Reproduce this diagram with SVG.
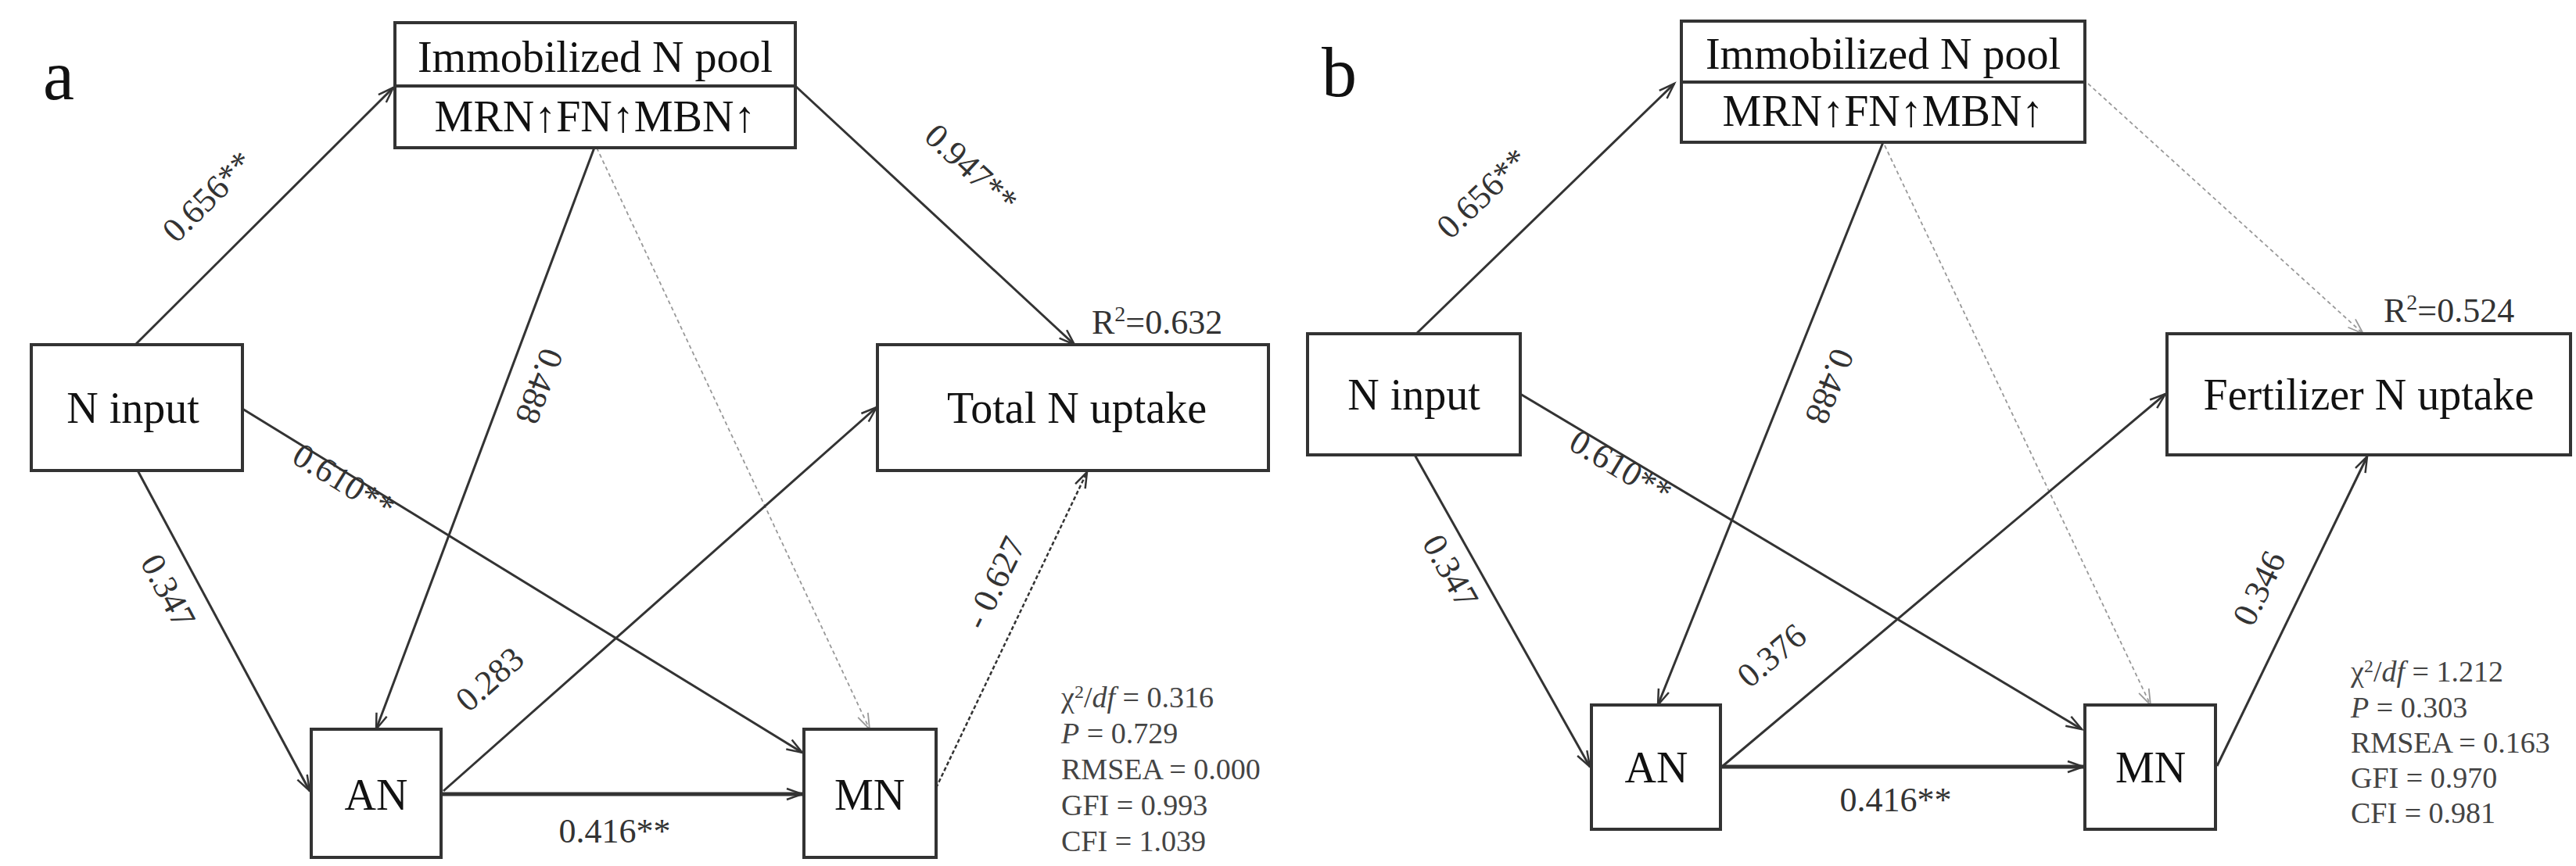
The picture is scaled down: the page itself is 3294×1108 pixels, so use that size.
<svg xmlns="http://www.w3.org/2000/svg" width="3294" height="1108" viewBox="0 0 3294 1108">
<style>
.box{fill:#fff;stroke:#333;stroke-width:4}
.nt{font-family:"Liberation Serif",serif;font-size:56px;fill:#111;text-anchor:middle}
.el{font-family:"Liberation Serif",serif;font-size:44px;fill:#333;text-anchor:middle}
.st{font-family:"Liberation Serif",serif;font-size:38px;fill:#444}
.pl{font-family:"Liberation Serif",serif;font-size:90px;fill:#111}
.s{stroke:#333;stroke-width:3;fill:none;marker-end:url(#ah)}
.t{stroke:#333;stroke-width:5;fill:none;marker-end:url(#ah)}
.d{stroke:#999;stroke-width:1.8;stroke-dasharray:5 4;fill:none;marker-end:url(#ahg)}
.dd{stroke:#333;stroke-width:2.5;stroke-dasharray:5 3;fill:none;marker-end:url(#ah)}
</style>
<defs>
<marker id="ah" markerUnits="userSpaceOnUse" markerWidth="26" markerHeight="18" refX="22" refY="9" orient="auto"><path d="M2,2 L22,9 L2,16" fill="none" stroke="#333" stroke-width="2.5"/></marker>
<marker id="ahg" markerUnits="userSpaceOnUse" markerWidth="26" markerHeight="18" refX="22" refY="9" orient="auto"><path d="M2,2 L22,9 L2,16" fill="none" stroke="#999" stroke-width="1.8"/></marker>
</defs>
<rect width="3294" height="1108" fill="#fff"/>
<text class="pl" x="55" y="127">a</text>
<text class="pl" x="1690" y="123">b</text>
<g id="connectors">
<!-- panel a -->
<line class="s" x1="173" y1="441" x2="503" y2="112"/>
<line class="s" x1="1017" y1="110" x2="1374" y2="441"/>
<line class="s" x1="760" y1="189" x2="481" y2="933"/>
<line class="d" x1="763" y1="189" x2="1112" y2="933"/>
<line class="s" x1="176" y1="602" x2="396" y2="1012"/>
<line class="s" x1="310" y1="523" x2="1026" y2="963"/>
<line class="s" x1="567" y1="1012" x2="1121" y2="521"/>
<line class="t" x1="564" y1="1016" x2="1026" y2="1016"/>
<line class="dd" x1="1197" y1="1008" x2="1390" y2="604"/>
<!-- panel b -->
<line class="s" x1="1811" y1="427" x2="2141" y2="107"/>
<line class="d" x1="2670" y1="107" x2="3022" y2="427"/>
<line class="s" x1="2408" y1="182" x2="2120" y2="902"/>
<line class="d" x1="2410" y1="186" x2="2750" y2="902"/>
<line class="s" x1="1809" y1="582" x2="2033" y2="981"/>
<line class="s" x1="1944" y1="504" x2="2662" y2="933"/>
<line class="s" x1="2203" y1="980" x2="2769" y2="504"/>
<line class="t" x1="2200" y1="981" x2="2664" y2="981"/>
<line class="s" x1="2835" y1="980" x2="3027" y2="584"/>
</g>
<g id="edge-labels">
<text class="el" transform="translate(276,262) rotate(-45)">0.656**</text>
<text class="el" transform="translate(1232,226) rotate(43)">0.947**</text>
<text class="el" transform="translate(676,489) rotate(110.6)">0.488</text>
<text class="el" transform="translate(202,763) rotate(62)">0.347</text>
<text class="el" transform="translate(432,628) rotate(31.6)">0.610**</text>
<text class="el" transform="translate(636,880) rotate(-41.6)">0.283</text>
<text class="el" transform="translate(1285,752) rotate(-64)">- 0.627</text>
<text class="el" x="786" y="1078">0.416**</text>
<text class="el" transform="translate(1906,258) rotate(-44)">0.656**</text>
<text class="el" transform="translate(2326,489) rotate(111.8)">0.488</text>
<text class="el" transform="translate(1842,738) rotate(60.7)">0.347</text>
<text class="el" transform="translate(2065,610) rotate(30.9)">0.610**</text>
<text class="el" transform="translate(2275,850) rotate(-40)">0.376</text>
<text class="el" transform="translate(2902,759) rotate(-64)">0.346</text>
<text class="el" x="2424" y="1038">0.416**</text>
</g>
<g id="a-imm">
<rect class="box" x="505" y="29" width="512" height="160"/>
<line x1="505" y1="110" x2="1017" y2="110" stroke="#333" stroke-width="4"/>
<text class="nt" x="761" y="92">Immobilized N pool</text>
<text class="nt" x="761" y="168">MRN↑FN↑MBN↑</text>
</g>
<g id="a-ninput"><rect class="box" x="40" y="441" width="270" height="161"/><text class="nt" x="170" y="541">N input</text></g>
<g id="a-total"><rect class="box" x="1122" y="441" width="500" height="161"/><text class="nt" x="1377" y="541">Total N uptake</text>
<text class="el" x="1396" y="427" style="text-anchor:start">R<tspan dy="-16" font-size="28">2</tspan><tspan dy="16">=0.632</tspan></text></g>
<g id="a-an"><rect class="box" x="398" y="933" width="166" height="164"/><text class="nt" x="481" y="1036">AN</text></g>
<g id="a-mn"><rect class="box" x="1028" y="933" width="169" height="164"/><text class="nt" x="1112" y="1036">MN</text></g>
<g id="a-stats">
<text class="st" x="1357" y="905">χ<tspan dy="-12" font-size="24">2</tspan><tspan dy="12">/</tspan><tspan font-style="italic">df</tspan> = 0.316</text>
<text class="st" x="1357" y="951"><tspan font-style="italic">P</tspan> = 0.729</text>
<text class="st" x="1357" y="997">RMSEA = 0.000</text>
<text class="st" x="1357" y="1043">GFI = 0.993</text>
<text class="st" x="1357" y="1089">CFI = 1.039</text>
</g>
<g id="b-imm">
<rect class="box" x="2150" y="27" width="516" height="155"/>
<line x1="2150" y1="105" x2="2666" y2="105" stroke="#333" stroke-width="4"/>
<text class="nt" x="2408" y="88">Immobilized N pool</text>
<text class="nt" x="2408" y="161">MRN↑FN↑MBN↑</text>
</g>
<g id="b-ninput"><rect class="box" x="1672" y="427" width="272" height="155"/><text class="nt" x="1808" y="524">N input</text></g>
<g id="b-fert"><rect class="box" x="2771" y="427" width="516" height="155"/><text class="nt" x="3029" y="524">Fertilizer N uptake</text>
<text class="el" x="3048" y="412" style="text-anchor:start">R<tspan dy="-16" font-size="28">2</tspan><tspan dy="16">=0.524</tspan></text></g>
<g id="b-an"><rect class="box" x="2035" y="902" width="165" height="159"/><text class="nt" x="2118" y="1001">AN</text></g>
<g id="b-mn"><rect class="box" x="2666" y="902" width="167" height="159"/><text class="nt" x="2750" y="1001">MN</text></g>
<g id="b-stats">
<text class="st" x="3006" y="872">χ<tspan dy="-12" font-size="24">2</tspan><tspan dy="12">/</tspan><tspan font-style="italic">df</tspan> = 1.212</text>
<text class="st" x="3006" y="918"><tspan font-style="italic">P</tspan> = 0.303</text>
<text class="st" x="3006" y="963">RMSEA = 0.163</text>
<text class="st" x="3006" y="1008">GFI = 0.970</text>
<text class="st" x="3006" y="1053">CFI = 0.981</text>
</g>
</svg>
